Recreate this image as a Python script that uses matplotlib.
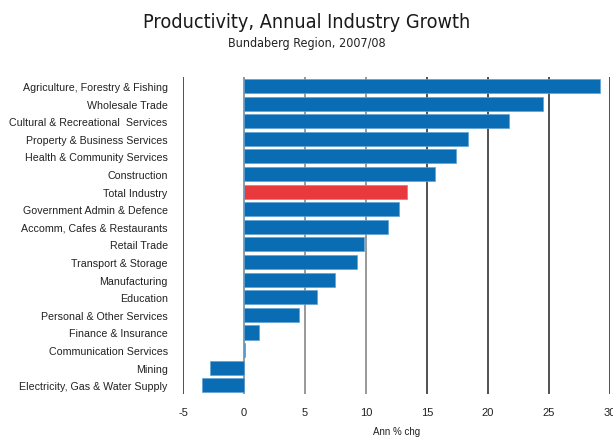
import matplotlib.pyplot as plt

industries = [
    "Agriculture, Forestry & Fishing",
    "Wholesale Trade",
    "Cultural & Recreational  Services",
    "Property & Business Services",
    "Health & Community Services",
    "Construction",
    "Total Industry",
    "Government Admin & Defence",
    "Accomm, Cafes & Restaurants",
    "Retail Trade",
    "Transport & Storage",
    "Manufacturing",
    "Education",
    "Personal & Other Services",
    "Finance & Insurance",
    "Communication Services",
    "Mining",
    "Electricity, Gas & Water Supply",
]
growth = [29.2, 24.5, 21.7, 18.4, 17.4, 15.7, 13.4, 12.7, 11.8,
          9.8, 9.3, 7.5, 6.0, 4.5, 1.2, 0.1, -2.8, -3.4]
xticks = [-5, 0, 5, 10, 15, 20, 25, 30]

blue = "#0a6db3"
red = "#e8393d"
colors = [red if n == "Total Industry" else blue for n in industries]

fig = plt.figure(figsize=(6.13, 4.39), dpi=100)
ax = fig.add_axes([0.2985, 0.10, 0.6965, 0.722])

y = list(range(len(industries)))
ax.barh(y, growth, height=0.8, color=colors, edgecolor="#5ea3d6",
        linewidth=0.5, zorder=3)

ax.set_xlim(-5, 30)
ax.set_ylim(len(industries) - 0.5, -0.5)
ax.set_xticks(xticks)
ax.set_xticklabels([str(t) for t in xticks], fontsize=8, color="#222222",
                   fontfamily="Liberation Sans")
ax.set_yticks(y)
ax.set_yticklabels(industries, fontsize=7.7, color="#222222",
                   fontfamily="Liberation Sans")
ax.tick_params(length=0)
ax.tick_params(axis="y", pad=11)
ax.tick_params(axis="x", pad=9)
for s in ax.spines.values():
    s.set_visible(False)
for t in xticks:
    c = "#888888" if t in (0, 5, 10) else "#333333"
    ax.axvline(t, color=c, linewidth=1.2, zorder=2)

ax.set_xlabel("Ann % chg", fontsize=7, color="#222222",
              fontfamily="Liberation Sans", labelpad=7)

fig.text(0.5, 0.948, "Productivity, Annual Industry Growth", ha="center",
         va="center", fontsize=14.2, color="#1a1a1a",
         fontfamily="DejaVu Sans", fontstretch="condensed")
fig.text(0.5, 0.902, "Bundaberg Region, 2007/08", ha="center",
         va="center", fontsize=9, color="#222222",
         fontfamily="DejaVu Sans", fontstretch="condensed")

fig.savefig("out.png", dpi=100)
